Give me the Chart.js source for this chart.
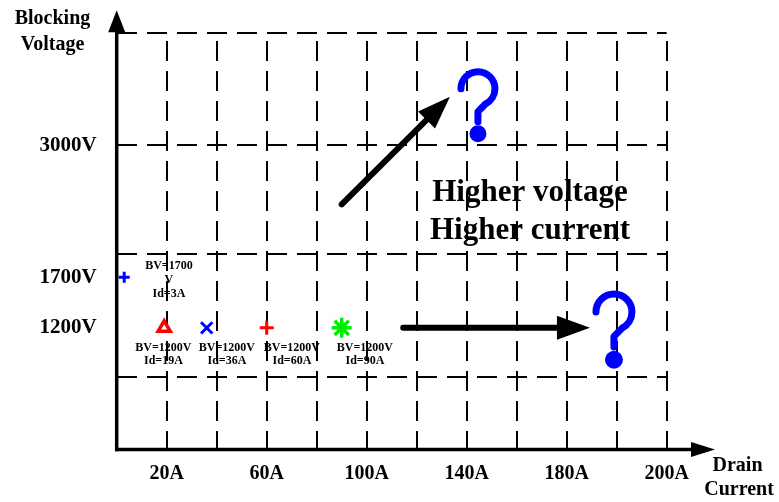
<!DOCTYPE html>
<html>
<head>
<meta charset="utf-8">
<script src="https://cdn.jsdelivr.net/npm/chart.js@4.4.1/dist/chart.umd.min.js"></script>
<style>
  html, body { margin: 0; padding: 0; background: #ffffff; }
  canvas { display: block; }
</style>
</head>
<body>
<canvas id="chart" width="779" height="502"></canvas>
<script>
// Device ratings: drain current (A) and blocking voltage (V)
const deviceCurrentA = [3, 19, 36, 60, 90];
const deviceVoltageV = [1700, 1200, 1200, 1200, 1200];

// Axis grid and tick labels
const xGridAmps = [20, 40, 60, 80, 100, 120, 140, 160, 180, 200, 220];
const xTickLabels = ['20A', '', '60A', '', '100A', '', '140A', '', '180A', '', '200A'];
const yGridVolts = [720, 1932, 3000, 4113];
const yLabelVolts = [1200, 1700, 3000];
const yTickLabels = ['1200V', '1700V', '3000V'];

const trendText = ['Higher voltage', 'Higher current'];

// Marker look for each device
const markerStyles = [
  { style: 'cross',    color: '#0000ff', radius: 5.5, width: 3 },
  { style: 'triangle', color: '#ff0000', radius: 7,   width: 3.5 },
  { style: 'crossRot', color: '#0000ff', radius: 8,   width: 3 },
  { style: 'cross',    color: '#ff0000', radius: 7,   width: 3 },
  { style: 'star',     color: '#00ee00', radius: 10,  width: 3.5 }
];

// Annotation placement, in axis units (A, V)
const noteAnchors = [[20.9, 1812], [18.7, 1004], [44.1, 1004], [70.1, 1004], [99.3, 1004]];
const trendTextAnchor = [165.3, 2532];
const trendArrows = [
  { from: [90, 2418], to: [133.3, 3481] },
  { from: [114.6, 1200], to: [189.3, 1200] }
];
const questionMarks = [
  { at: [144.5, 3560], r: 17 },
  { at: [198.9, 1356], r: 18 }
];

const serif = '"Liberation Serif", "Times New Roman", serif';

function arrowHead(ctx, x1, y1, x2, y2, len, half) {
  const ang = Math.atan2(y2 - y1, x2 - x1);
  const bx = x2 - len * Math.cos(ang), by = y2 - len * Math.sin(ang);
  ctx.beginPath();
  ctx.moveTo(x2, y2);
  ctx.lineTo(bx + half * Math.sin(ang), by - half * Math.cos(ang));
  ctx.lineTo(bx - half * Math.sin(ang), by + half * Math.cos(ang));
  ctx.closePath();
  ctx.fill();
  return [bx, by];
}

function drawQuestion(ctx, cx, cy, r) {
  ctx.save();
  ctx.strokeStyle = '#0000ff';
  ctx.fillStyle = '#0000ff';
  ctx.lineWidth = 7;
  ctx.lineCap = 'round';
  ctx.lineJoin = 'round';
  ctx.beginPath();
  ctx.arc(cx, cy, r, Math.PI, Math.PI * 2.35, false);
  ctx.lineTo(cx, cy + r * 1.35);
  ctx.lineTo(cx, cy + r * 1.94);
  ctx.stroke();
  ctx.beginPath();
  ctx.arc(cx, cy + r * 2.65, r * 0.5, 0, Math.PI * 2);
  ctx.fill();
  ctx.restore();
}

const decor = {
  id: 'decor',
  afterDatasetsDraw(chart) {
    const { ctx, scales: { x, y } } = chart;
    ctx.save();
    ctx.fillStyle = '#000';
    ctx.textAlign = 'center';
    ctx.textBaseline = 'middle';

    // rating notes beside each device
    ctx.font = `bold 12px ${serif}`;
    deviceCurrentA.forEach((a, i) => {
      const v = deviceVoltageV[i];
      const lines = i === 0 ? [`BV=${v}`, 'V', `Id=${a}A`] : [`BV=${v}V`, `Id=${a}A`];
      const lh = i === 0 ? 14 : 12.7;
      const px = x.getPixelForValue(noteAnchors[i][0]);
      const py = y.getPixelForValue(noteAnchors[i][1]);
      lines.forEach((t, k) => ctx.fillText(t, px, py + k * lh));
    });

    // trend caption
    ctx.font = `bold 31px ${serif}`;
    const tx = x.getPixelForValue(trendTextAnchor[0]);
    const ty = y.getPixelForValue(trendTextAnchor[1]);
    trendText.forEach((t, k) => ctx.fillText(t, tx, ty + k * 38.3));

    // trend arrows
    ctx.strokeStyle = '#000';
    ctx.lineWidth = 6;
    ctx.lineCap = 'round';
    trendArrows.forEach(a => {
      const x1 = x.getPixelForValue(a.from[0]), y1 = y.getPixelForValue(a.from[1]);
      const x2 = x.getPixelForValue(a.to[0]), y2 = y.getPixelForValue(a.to[1]);
      const [bx, by] = arrowHead(ctx, x1, y1, x2, y2, 33, 12);
      ctx.beginPath();
      ctx.moveTo(x1, y1);
      ctx.lineTo(bx + (x2 - bx) * 0.1, by + (y2 - by) * 0.1);
      ctx.stroke();
    });

    questionMarks.forEach(q => {
      drawQuestion(ctx, x.getPixelForValue(q.at[0]), y.getPixelForValue(q.at[1]), q.r);
    });
    ctx.restore();
  },
  afterDraw(chart) {
    const { ctx, chartArea: ca } = chart;
    ctx.save();
    ctx.fillStyle = '#000';
    ctx.strokeStyle = '#000';
    ctx.lineWidth = 3.5;
    ctx.lineCap = 'butt';

    // vertical axis with arrow
    ctx.beginPath();
    ctx.moveTo(ca.left, ca.bottom + 1.75);
    ctx.lineTo(ca.left, ca.top - 2);
    ctx.stroke();
    arrowHead(ctx, ca.left, ca.top, ca.left, ca.top - 22.4, 22, 8.5);

    // horizontal axis with arrow
    ctx.beginPath();
    ctx.moveTo(ca.left - 1.75, ca.bottom);
    ctx.lineTo(ca.right + 26, ca.bottom);
    ctx.stroke();
    arrowHead(ctx, ca.right, ca.bottom, ca.right + 48.3, ca.bottom, 24, 7.5);

    // axis titles
    ctx.font = `bold 20px ${serif}`;
    ctx.textAlign = 'center';
    ctx.textBaseline = 'middle';
    ctx.fillText('Blocking', ca.left - 64.2, ca.top - 13.5);
    ctx.fillText('Voltage', ca.left - 64.2, ca.top + 12.3);
    ctx.fillText('Drain', ca.right + 70.8, ca.bottom + 16.5);
    ctx.fillText('Current', ca.right + 72.3, ca.bottom + 40);
    ctx.restore();
  }
};

const datasets = deviceCurrentA.map((a, i) => ({
  label: `BV=${deviceVoltageV[i]}V Id=${a}A`,
  data: [{ x: a, y: deviceVoltageV[i] }],
  pointStyle: markerStyles[i].style,
  pointRadius: markerStyles[i].radius,
  pointHoverRadius: markerStyles[i].radius,
  pointBorderWidth: markerStyles[i].width,
  pointBorderColor: markerStyles[i].color,
  pointBackgroundColor: '#ffffff',
  showLine: false
}));

new Chart(document.getElementById('chart'), {
  type: 'scatter',
  data: { datasets },
  options: {
    responsive: false,
    animation: false,
    events: [],
    layout: { padding: { left: 0, right: 112.3, top: 30.7, bottom: 0 } },
    plugins: { legend: { display: false }, tooltip: { enabled: false } },
    scales: {
      x: {
        type: 'linear',
        min: 0,
        max: 220,
        afterBuildTicks: s => { s.ticks = xGridAmps.map(v => ({ value: v })); },
        afterFit: s => { s.height = 52.5; },
        grid: { color: '#000', lineWidth: 2, drawTicks: false },
        border: { display: false, dash: [20, 10], dashOffset: 21.7 },
        ticks: {
          autoSkip: false,
          maxRotation: 0,
          padding: 12,
          color: '#000',
          font: { family: serif, size: 20, weight: 'bold' },
          callback: v => { const i = xGridAmps.indexOf(v); return i >= 0 ? xTickLabels[i] : ''; }
        }
      },
      y: {
        type: 'linear',
        min: 0,
        max: 4113,
        afterBuildTicks: s => {
          const vals = [...new Set([...yGridVolts, ...yLabelVolts])].sort((a, b) => a - b);
          s.ticks = vals.map(v => ({ value: v }));
        },
        afterFit: s => { s.width = 116.7; },
        grid: {
          lineWidth: 2,
          drawTicks: false,
          color: c => (c.tick && yGridVolts.includes(c.tick.value)) ? '#000' : 'rgba(0,0,0,0)'
        },
        border: { display: false, dash: [20, 10], dashOffset: 0 },
        ticks: {
          autoSkip: false,
          padding: 20,
          color: '#000',
          font: { family: serif, size: 21, weight: 'bold' },
          callback: v => { const i = yLabelVolts.indexOf(v); return i >= 0 ? yTickLabels[i] : ''; }
        }
      }
    }
  },
  plugins: [decor]
});
</script>
</body>
</html>
